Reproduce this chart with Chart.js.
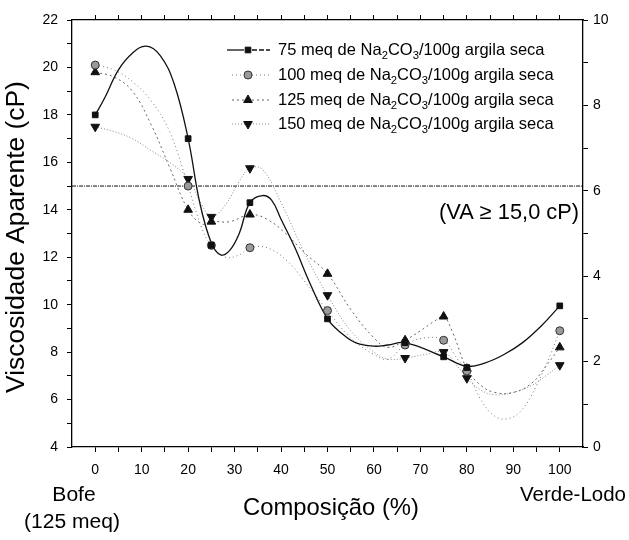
<!DOCTYPE html>
<html>
<head>
<meta charset="utf-8">
<script src="https://cdn.jsdelivr.net/npm/chart.js@4/dist/chart.umd.min.js"></script>
<style>
  body { margin: 0; background: #fff; }
</style>
</head>
<body>
<canvas id="myChart" width="629" height="540"></canvas>
<script>
// measured points (composition % vs apparent viscosity, cP)
const composicao = [0, 20, 25, 33.3, 50, 66.7, 75, 80, 100];
const visc75 = [18.0, 17.0, 12.5, 14.3, 9.4, 8.4, 7.8, 7.35, 9.95];
const visc100 = [20.1, 15.0, 12.5, 12.4, 9.75, 8.3, 8.5, 7.2, 8.9];
const visc125 = [19.8, 14.0, 13.5, 13.8, 11.3, 8.5, 9.5, 7.3, 8.2];
const visc150 = [17.5, 15.3, 13.7, 15.75, 10.4, 7.75, 8.0, 6.9, 7.45];

// fitted curves
const curveX75 = [0, 2, 5, 8, 11, 14, 17, 20, 22.5, 25, 27, 29, 31, 33.3, 36, 38, 40, 43, 46, 50, 53, 56, 60, 63, 66.7, 75, 80, 84, 88, 92, 96, 100];
const curveY75 = [18.0, 18.7, 19.9, 20.6, 20.9, 20.5, 19.3, 17.0, 14.3, 12.6, 12.1, 12.3, 13.0, 14.3, 14.6, 14.4, 13.6, 12.4, 11.0, 9.4, 8.8, 8.4, 8.25, 8.3, 8.4, 7.8, 7.4, 7.55, 7.9, 8.4, 9.1, 9.95];
const curveX100 = [0, 4, 8, 12, 16, 20, 23, 25, 28, 31, 33.3, 37, 41, 45, 50, 55, 60, 63, 66.7, 71, 75, 78, 80, 83, 86, 89, 92, 95, 98, 100];
const curveY100 = [20.1, 19.9, 19.4, 18.6, 17.3, 15.0, 13.2, 12.5, 12.0, 12.1, 12.4, 12.4, 11.9, 11.0, 9.75, 8.6, 7.9, 7.7, 8.3, 8.6, 8.5, 7.7, 7.2, 6.0, 5.3, 5.2, 5.6, 6.6, 7.9, 8.9];
const curveX125 = [0, 4, 8, 12, 16, 20, 23, 25, 29, 33.3, 37, 41, 45, 50, 55, 60, 63, 66.7, 70, 73, 75, 77, 80, 83, 86, 90, 94, 97, 100];
const curveY125 = [19.8, 19.6, 19.0, 17.6, 15.8, 14.0, 13.4, 13.5, 13.5, 13.8, 13.6, 13.0, 12.2, 11.3, 9.8, 8.6, 8.2, 8.5, 8.9, 9.3, 9.5, 8.8, 7.3, 6.6, 6.3, 6.3, 6.7, 7.4, 8.2];
const curveX150 = [0, 4, 8, 12, 16, 20, 23, 25, 28, 31, 33.3, 36, 40, 45, 50, 55, 60, 63, 66.7, 71, 75, 78, 80, 83, 86, 90, 94, 97, 100];
const curveY150 = [17.5, 17.3, 17.0, 16.5, 16.0, 15.3, 14.2, 13.7, 14.2, 15.2, 15.75, 15.7, 14.3, 12.2, 10.4, 8.9, 8.0, 7.7, 7.75, 7.9, 8.0, 7.4, 6.9, 6.4, 6.2, 6.3, 6.6, 7.0, 7.45];

// VA >= 15,0 cP limit
const limiteX = [-5, 105];
const limiteY = [15, 15];

const seriesLabels = ["75", "100", "125", "150"];
// tick positions (majors get labels, the rest are minor marks)
const xTicks = [0, 5, 10, 15, 20, 25, 30, 35, 40, 45, 50, 55, 60, 65, 70, 75, 80, 85, 90, 95, 100];
const yTicks = [4, 5, 6, 7, 8, 9, 10, 11, 12, 13, 14, 15, 16, 17, 18, 19, 20, 21, 22];
const y2Ticks = [0, 1, 2, 3, 4, 5, 6, 7, 8, 9, 10];

const FONT = "'Liberation Sans', Arial, sans-serif";

const toXY = (xv, yv) => xv.map((x, i) => ({ x: x, y: yv[i] }));

const markerStyles = [
  { pointStyle: "rect", radius: 4, rotation: 0, bg: "#111", border: "#111" },
  { pointStyle: "circle", radius: 4, rotation: 0, bg: "#9a9a9a", border: "#333" },
  { pointStyle: "triangle", radius: 5, rotation: 0, bg: "#111", border: "#111" },
  { pointStyle: "triangle", radius: 5, rotation: 180, bg: "#111", border: "#111" },
];
const lineStyles = [
  { color: "#111", width: 1.3, dash: [] },
  { color: "#777", width: 1, dash: [1, 3] },
  { color: "#666", width: 1, dash: [2, 3] },
  { color: "#888", width: 1, dash: [1, 2] },
];

const markerSets = [visc75, visc100, visc125, visc150];
const curveSets = [
  [curveX75, curveY75],
  [curveX100, curveY100],
  [curveX125, curveY125],
  [curveX150, curveY150],
];

const datasets = [];
markerSets.forEach((vals, i) => {
  const m = markerStyles[i];
  datasets.push({
    label: seriesLabels[i],
    data: toXY(composicao, vals),
    showLine: false,
    pointStyle: m.pointStyle,
    pointRadius: m.radius,
    pointRotation: m.rotation,
    pointBackgroundColor: m.bg,
    pointBorderColor: m.border,
    pointBorderWidth: 1,
  });
});
curveSets.forEach((c, i) => {
  const l = lineStyles[i];
  datasets.push({
    label: seriesLabels[i] + " fit",
    data: toXY(c[0], c[1]),
    showLine: true,
    tension: 0.4,
    pointRadius: 0,
    borderColor: l.color,
    borderWidth: l.width,
    borderDash: l.dash,
  });
});
datasets.push({
  label: "limite",
  data: toXY(limiteX, limiteY),
  showLine: true,
  pointRadius: 0,
  borderColor: "#111",
  borderWidth: 1,
  borderDash: [4, 1, 1, 1],
});

// font size that makes text fill a given width
function fitText(ctx, text, size, width) {
  ctx.font = size + "px " + FONT;
  const w = ctx.measureText(text).width;
  return size * width / w;
}

// legend text with Na2CO3 subscripts
function drawLegendText(ctx, num, x, y, size) {
  const parts = [[num + " meq de Na", 0], ["2", 1], ["CO", 0], ["3", 1], ["/100g argila seca", 0]];
  let cx = x;
  parts.forEach((p) => {
    const s = p[1] ? size * 0.68 : size;
    ctx.font = s + "px " + FONT;
    ctx.textBaseline = "middle";
    ctx.textAlign = "left";
    ctx.fillText(p[0], cx, p[1] ? y + size * 0.38 : y);
    cx += ctx.measureText(p[0]).width;
  });
}

const decorPlugin = {
  id: "decor",
  afterDraw(chart) {
    const ctx = chart.ctx;
    ctx.save();
    ctx.fillStyle = "#000";

    // axis titles / labels
    let s = fitText(ctx, "Viscosidade Aparente (cP)", 20, 312);
    ctx.font = s + "px " + FONT;
    ctx.textAlign = "center";
    ctx.textBaseline = "middle";
    ctx.save();
    ctx.translate(17, 237);
    ctx.rotate(-Math.PI / 2);
    ctx.fillText("Viscosidade Aparente (cP)", 0, 0);
    ctx.restore();

    s = fitText(ctx, "Composição (%)", 18, 176);
    ctx.font = s + "px " + FONT;
    ctx.fillText("Composição (%)", 331, 508);
    s = fitText(ctx, "Verde-Lodo", 18, 106);
    ctx.font = s + "px " + FONT;
    ctx.fillText("Verde-Lodo", 573, 495);
    s = fitText(ctx, "(125 meq)", 18, 96);
    ctx.font = s + "px " + FONT;
    ctx.fillText("Bofe", 74, 495);
    ctx.fillText("(125 meq)", 72, 522);

    s = fitText(ctx, "(VA \u2265 15,0 cP)", 18, 140);
    ctx.font = s + "px " + FONT;
    ctx.textAlign = "right";
    ctx.fillText("(VA \u2265 15,0 cP)", 579, 213);

    // legend
    const rows = [50, 75, 100, 124];
    rows.forEach((ry, i) => {
      const l = lineStyles[i];
      const m = markerStyles[i];
      ctx.save();
      ctx.strokeStyle = l.color;
      ctx.lineWidth = l.width;
      ctx.setLineDash(i === 0 ? [] : l.dash);
      ctx.beginPath();
      if (i === 0) {
        ctx.moveTo(227, ry); ctx.lineTo(244, ry);
        ctx.stroke();
        ctx.setLineDash([5, 2]);
        ctx.beginPath();
        ctx.moveTo(252, ry); ctx.lineTo(270, ry);
      } else {
        ctx.moveTo(232, ry); ctx.lineTo(270, ry);
      }
      ctx.stroke();
      ctx.setLineDash([]);
      ctx.fillStyle = m.bg;
      ctx.strokeStyle = m.border;
      ctx.lineWidth = 1;
      Chart.helpers.drawPoint(ctx, { pointStyle: m.pointStyle, radius: m.radius, rotation: m.rotation, borderWidth: 1 }, 248, ry);
      ctx.restore();
      ctx.fillStyle = "#000";
      drawLegendText(ctx, seriesLabels[i], 278, ry, 16.5);
    });
    ctx.restore();
  },
};

const axisGrid = {
  display: true,
  drawOnChartArea: false,
  drawTicks: true,
  tickLength: 5,
  color: "#000",
  lineWidth: 1,
};
const axisBorder = { display: true, color: "#000", width: 1.3 };

const config = {
  type: "scatter",
  data: { datasets: datasets },
  options: {
    responsive: false,
    animation: false,
    layout: { padding: { top: 20 } },
    scales: {
      x: {
        type: "linear",
        position: "bottom",
        min: -5,
        max: 105,
        afterBuildTicks: (s) => {
          s.ticks = xTicks.map((v) => ({ value: v }));
        },
        afterFit: (s) => { s.height = 93; },
        grid: axisGrid,
        border: axisBorder,
        ticks: {
          color: "#000",
          padding: 10,
          maxRotation: 0,
          autoSkip: false,
          font: { family: FONT, size: 14 },
          callback: (v) => (v % 10 === 0 ? String(v) : ""),
        },
      },
      xTop: {
        type: "linear",
        position: "top",
        min: -5,
        max: 105,
        afterBuildTicks: (s) => {
          s.ticks = xTicks.map((v) => ({ value: v }));
        },
        afterFit: (s) => { s.height = 0; },
        grid: axisGrid,
        border: axisBorder,
        ticks: { display: false },
      },
      y: {
        position: "left",
        min: 4,
        max: 22,
        afterBuildTicks: (s) => {
          s.ticks = yTicks.map((v) => ({ value: v }));
        },
        afterFit: (s) => { s.width = 72; },
        grid: axisGrid,
        border: axisBorder,
        ticks: {
          color: "#000",
          padding: 9,
          autoSkip: false,
          font: { family: FONT, size: 14 },
          callback: (v) => (v % 2 === 0 ? String(v) : ""),
        },
      },
      y2: {
        position: "right",
        min: 0,
        max: 10,
        afterBuildTicks: (s) => {
          s.ticks = y2Ticks.map((v) => ({ value: v }));
        },
        afterFit: (s) => { s.width = 46; },
        grid: axisGrid,
        border: axisBorder,
        ticks: {
          color: "#000",
          padding: 5,
          autoSkip: false,
          font: { family: FONT, size: 14 },
          callback: (v) => (v % 2 === 0 ? String(v) : ""),
        },
      },
    },
    plugins: {
      legend: { display: false },
      tooltip: { enabled: false },
    },
  },
  plugins: [decorPlugin],
};

const myChart = new Chart(document.getElementById("myChart"), config);
</script>
</body>
</html>
